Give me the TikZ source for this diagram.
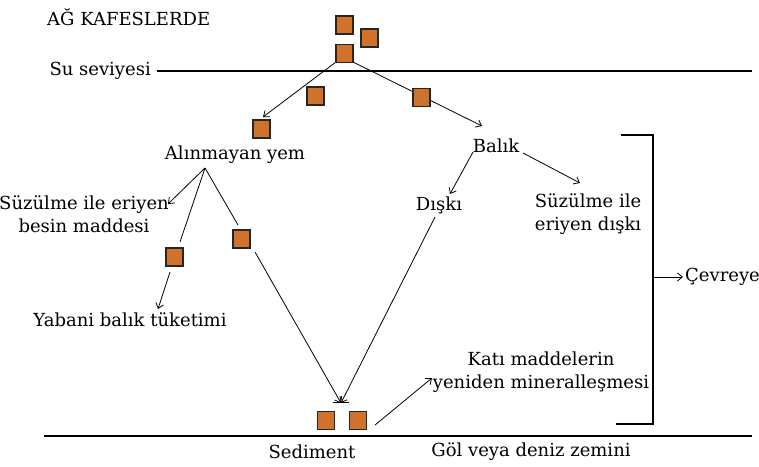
\documentclass[tikz,border=0pt]{standalone}
\usepackage{fontspec}
\setmainfont{DejaVu Serif}
\usetikzlibrary{arrows.meta}
\definecolor{boxorange}{RGB}{208,114,42}
\tikzset{
  sq/.style={draw=black!85, line width=1.1pt, fill=boxorange, minimum width=17pt, minimum height=18pt, inner sep=0pt},
  lbl/.style={inner sep=0pt, font=\fontsize{18}{22.5}\selectfont, align=center},
  conn/.style={line width=0.8pt},
  arr/.style={conn, -{Straight Barb[length=5pt,width=8pt]}},
  level/.style={line width=1.3pt}
}
\begin{document}
\begin{tikzpicture}[x=1pt,y=-1pt]
\useasboundingbox (0,0) rectangle (759,466);
% texts
\node[lbl, anchor=west] (title) at (47,17) {AĞ KAFESLERDE};
\node[lbl, anchor=east] (su) at (151,71) {Su seviyesi};
\node[lbl] (yem) at (235,155) {Alınmayan yem};
\node[lbl] (besin) at (84,214) {Süzülme ile eriyen\\besin maddesi};
\node[lbl] (yabani) at (130,320) {Yabani balık tüketimi};
\node[lbl] (balik) at (496,146) {Balık};
\node[lbl] (diski) at (439,205) {Dışkı};
\node[lbl] (eriyen) at (588,214) {Süzülme ile\\eriyen dışkı};
\node[lbl] (kati) at (541,372) {Katı maddelerin\\yeniden mineralleşmesi};
\node[lbl] (sedlbl) at (312,452) {Sediment};
\node[lbl] (zemin) at (531,452) {Göl veya deniz zemini};
\node[lbl, anchor=west] (cevre) at (685,277) {Çevreye};
% level lines
\coordinate (wl1) at (157,71); \coordinate (wl2) at (752,71);
\coordinate (bl1) at (44,436); \coordinate (bl2) at (752,436);
\draw[level] (wl1) -- (wl2);
\draw[level] (bl1) -- (bl2);
% connector points
\coordinate (s3sw) at (336,62);
\coordinate (s3se) at (353,62);
\coordinate (tipL) at (263,117);
\coordinate (tipR) at (482,126);
\coordinate (fan) at (205,168);
\coordinate (tipB) at (168,204);
\coordinate (endY) at (180,242);
\coordinate (endS) at (238,225);
\coordinate (yb) at (170,272);
\coordinate (tipY) at (158,309);
\coordinate (sb) at (255,252);
\coordinate (sedtip) at (341,403);
\coordinate (bal1) at (473,152);
\coordinate (tipD) at (450,194);
\coordinate (bal2) at (523,153);
\coordinate (tipE) at (580,183);
\coordinate (dsk) at (435,217);
\coordinate (sedR) at (375,425);
\coordinate (tipK) at (432,378);
\coordinate (br1) at (621,135); \coordinate (br2) at (653,135);
\coordinate (br3) at (653,424); \coordinate (br4) at (616,424);
\coordinate (brm) at (653,277); \coordinate (tipC) at (683,277);
% connectors
\draw[arr] (s3sw) -- (tipL);
\draw[arr] (s3se) -- (tipR);
\draw[arr] (fan) -- (tipB);
\draw[conn] (fan) -- (endY);
\draw[conn] (fan) -- (endS);
\draw[arr] (yb) -- (tipY);
\draw[arr] (sb) -- (sedtip);
\draw[arr] (dsk) -- (sedtip);
\draw[conn] ([xshift=-8pt,yshift=1pt]sedtip) -- ([xshift=8pt,yshift=1pt]sedtip);
\draw[arr] (bal1) -- (tipD);
\draw[arr] (bal2) -- (tipE);
\draw[arr] (sedR) -- (tipK);
\draw[line width=1.2pt] (br1) -- (br2) -- (br3) -- (br4);
\draw[arr] (brm) -- (tipC);
% squares
\node[sq] (sq1) at (344.5,25) {};
\node[sq] (sq2) at (369.5,38) {};
\node[sq] (sq3) at (344.5,53.5) {};
\node[sq] (sqL1) at (315.5,96) {};
\node[sq] (sqR1) at (421.5,97.5) {};
\node[sq] (sqL2) at (261.5,129) {};
\node[sq] (sqY) at (174.5,257) {};
\node[sq] (sqS) at (241.5,239) {};
\node[sq] (sed1) at (326,420.5) {};
\node[sq] (sed2) at (358,420.5) {};
\end{tikzpicture}
\end{document}
